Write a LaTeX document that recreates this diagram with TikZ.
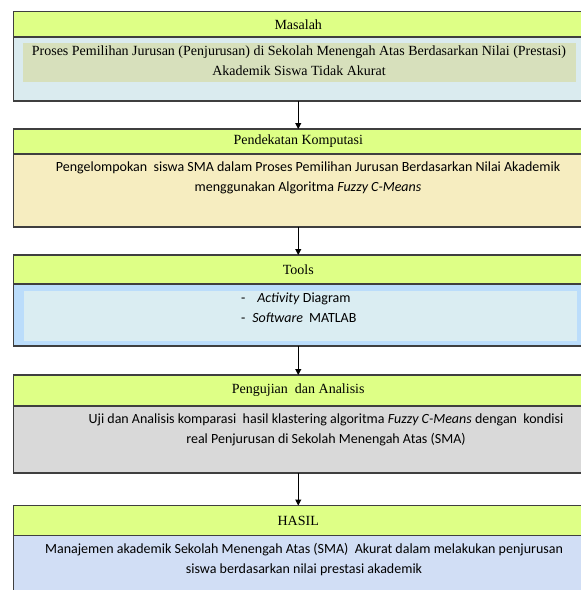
\documentclass[tikz,border=0pt]{standalone}
\usepackage{fontspec}
\setmainfont{Liberation Serif}
\newfontfamily\calibri{Carlito}
\usetikzlibrary{positioning,arrows.meta}
\definecolor{boxline}{HTML}{3F3F3F}
\definecolor{headlime}{HTML}{DEFF86}
\definecolor{masalahbg}{HTML}{DAEBEF}
\definecolor{masalahin}{HTML}{D7E0BC}
\definecolor{komputasibg}{HTML}{F6EDC0}
\definecolor{toolsbg}{HTML}{BBDDFB}
\definecolor{toolsin}{HTML}{DAEDF2}
\definecolor{ujibg}{HTML}{D9D9D9}
\definecolor{hasilbg}{HTML}{D1DEF5}

\begin{document}
\begin{tikzpicture}
	[x=1pt, y=-1pt, every node/.style={inner sep=0pt, outer sep=0pt},
	head/.style={draw=boxline, line width=1.2pt, fill=headlime, minimum width=569.5pt, anchor=north west, font=\fontsize{14}{16}\selectfont},
	body/.style={draw=boxline, line width=1.2pt, minimum width=569.5pt},
	inbox/.style={minimum width=553pt, anchor=north west},
	serifText/.style={align=center, font=\fontsize{14}{20}\selectfont},
	sansText/.style={align=center, font=\calibri\fontsize{14}{20}\selectfont}]
	\useasboundingbox (0,0) rectangle (581,590);
	
	% Masalah
	\node (h1) [head, minimum height=25.5pt] at (13.5,11.5) {Masalah};
	\node (b1) [body, fill=masalahbg, minimum height=64pt, below=0pt of h1] {};
	\node (in1) [inbox, fill=masalahin, minimum height=38.5pt] at (23,43) {};
	\node (t1) [serifText] at (299,61) {Proses Pemilihan Jurusan (Penjurusan) di Sekolah Menengah Atas Berdasarkan Nilai (Prestasi)\\Akademik Siswa Tidak Akurat};
	
	% Pendekatan Komputasi
	\node (h2) [head, minimum height=25pt] at (13.5,129) {Pendekatan Komputasi};
	\node (b2) [body, fill=komputasibg, minimum height=73pt, below=0pt of h2] {};
	\node (t2) [sansText] at (308,178) {Pengelompokan \ siswa SMA dalam Proses Pemilihan Jurusan Berdasarkan Nilai Akademik\\menggunakan Algoritma \textit{Fuzzy C-Means}};
	
	% Tools
	\node (h3) [head, minimum height=29pt] at (13.5,255) {Tools};
	\node (b3) [body, fill=toolsbg, minimum height=62pt, below=0pt of h3] {};
	\node (in3) [inbox, fill=toolsin, minimum height=50pt] at (24,290.5) {};
	\node (t3) [sansText, align=left, anchor=west] at (241,307.5) {-\hspace{12pt}\textit{Activity} Diagram\\-\hspace{7pt}\textit{Software}\hspace{6pt}MATLAB};
	
	% Pengujian dan Analisis
	\node (h4) [head, minimum height=31pt] at (13.5,375) {Pengujian \ dan Analisis};
	\node (b4) [body, fill=ujibg, minimum height=67pt, below=0pt of h4] {};
	\node (t4) [sansText] at (326,430) {Uji dan Analisis komparasi \ hasil klastering algoritma \textit{Fuzzy C-Means} dengan \ kondisi\\real Penjurusan di Sekolah Menengah Atas (SMA)};
	
	% HASIL
	\node (h5) [head, minimum height=30pt] at (13.5,505.5) {HASIL};
	\node (b5) [body, fill=hasilbg, minimum height=70pt, below=0pt of h5] {};
	\node (t5) [sansText] at (304,560) {Manajemen akademik Sekolah Menengah Atas (SMA) \ Akurat dalam melakukan penjurusan\\siswa berdasarkan nilai prestasi akademik};
	
	\draw[-{Triangle[length=6pt, width=6pt]}, line width=1pt] (b1) -- (h2);
	\draw[-{Triangle[length=6pt, width=6pt]}, line width=1pt] (b2) -- (h3);
	\draw[-{Triangle[length=6pt, width=6pt]}, line width=1pt] (b3) -- (h4);
	\draw[-{Triangle[length=6pt, width=6pt]}, line width=1pt] (b4) -- (h5);
\end{tikzpicture}
\end{document}
